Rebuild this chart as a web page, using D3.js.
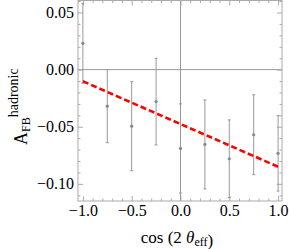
<!DOCTYPE html>
<html>
<head>
<meta charset="utf-8">
<script src="https://cdn.jsdelivr.net/npm/d3@7"></script>
<style>
  body { margin: 0; background: #fff; }
  svg text { font-family: "Liberation Serif", "Times New Roman", serif; }
</style>
</head>
<body>
<div id="chart"></div>
<script>
// measured asymmetry per cos(2 theta_eff) bin
var xs = [-1, -0.75, -0.5, -0.25, 0, 0.25, 0.5, 0.75, 1];
var afb = [0.023, -0.032, -0.0495, -0.028, -0.069, -0.0655, -0.078, -0.057, -0.0733];
var errs = [0.035, 0.032, 0.039, 0.038, 0.039, 0.039, 0.034, 0.035, 0.033];

// linear fit
var fitIntercept = -0.0476;
var fitSlope = -0.0374;

var xMajor = [-1, -0.5, 0, 0.5, 1];
var xLabels = ["\u22121.0", "\u22120.5", "0.0", "0.5", "1.0"];
var yMajor = [-0.1, -0.05, 0, 0.05];
var yLabels = ["\u22120.10", "\u22120.05", "0.00", "0.05"];

var width = 289, height = 249;
var pLeft = 78, pRight = 282, pTop = 0.5, pBottom = 201;

var svg = d3.select("#chart").append("svg")
    .attr("width", width)
    .attr("height", height);

var x = d3.scaleLinear().domain([-1.05, 1.04]).range([pLeft, pRight]);
var y = d3.scaleLinear().domain([-0.115, 0.0605]).range([pBottom, pTop]);

var xMinor = d3.range(-10, 11).map(function(i){ return i / 10; })
    .filter(function(v){ return Math.abs(v * 2 - Math.round(v * 2)) > 1e-9; });
var yMinor = d3.range(-11, 7).map(function(i){ return i / 100; })
    .filter(function(v){ return Math.abs(v * 20 - Math.round(v * 20)) > 1e-9; });

var frameColor = "#aaa";
var serif = "'Liberation Serif', 'Times New Roman', serif";

// axes through the origin
svg.append("line")
    .attr("x1", pLeft).attr("x2", pRight)
    .attr("y1", y(0)).attr("y2", y(0))
    .attr("stroke", "#999").attr("stroke-width", 1);
svg.append("line")
    .attr("x1", x(0)).attr("x2", x(0))
    .attr("y1", pTop).attr("y2", pBottom)
    .attr("stroke", "#999").attr("stroke-width", 1);

// frame ticks
function ticks(axis, scale, vals, size, tr, labels){
    var g = svg.append("g")
        .attr("transform", tr)
        .call(axis(scale).tickValues(vals).tickSizeInner(size).tickSizeOuter(0)
            .tickPadding(labels ? 4 : 0)
            .tickFormat(function(d, i){ return labels ? labels[i] : ""; }));
    g.attr("font-family", serif);
    g.select(".domain").remove();
    g.selectAll("line").attr("stroke", frameColor);
    g.selectAll("text").attr("fill", "#000")
        .style("font-family", serif).style("font-size", "16px");
    return g;
}

var gl = ticks(d3.axisLeft, y, yMajor, -5, "translate(" + pLeft + ",0)", yLabels);
gl.selectAll("text").attr("x", -4);
ticks(d3.axisLeft, y, yMinor, -2.5, "translate(" + pLeft + ",0)");
ticks(d3.axisRight, y, yMajor, -5, "translate(" + pRight + ",0)");
ticks(d3.axisRight, y, yMinor, -2.5, "translate(" + pRight + ",0)");
var gb = ticks(d3.axisBottom, x, xMajor, -5, "translate(0," + pBottom + ")", xLabels);
gb.selectAll("text").attr("y", 4);
ticks(d3.axisBottom, x, xMinor, -2.5, "translate(0," + pBottom + ")");
ticks(d3.axisTop, x, xMajor, -5, "translate(0," + pTop + ")");
ticks(d3.axisTop, x, xMinor, -2.5, "translate(0," + pTop + ")");

svg.append("rect")
    .attr("x", pLeft).attr("y", pTop)
    .attr("width", pRight - pLeft).attr("height", pBottom - pTop)
    .attr("fill", "none").attr("stroke", frameColor).attr("stroke-width", 1);

// error bars
var pts = xs.map(function(d, i){ return {x: d, v: afb[i], e: errs[i]}; });
var eb = svg.append("g").attr("stroke", "#999").attr("stroke-width", 1);
eb.selectAll(".bar").data(pts).enter().append("line")
    .attr("x1", function(d){ return x(d.x); })
    .attr("x2", function(d){ return x(d.x); })
    .attr("y1", function(d){ return y(d.v + d.e); })
    .attr("y2", function(d){ return y(d.v - d.e); });
eb.selectAll(".capT").data(pts).enter().append("line")
    .attr("x1", function(d){ return x(d.x) - 1.5; })
    .attr("x2", function(d){ return x(d.x) + 1.5; })
    .attr("y1", function(d){ return y(d.v + d.e); })
    .attr("y2", function(d){ return y(d.v + d.e); });
eb.selectAll(".capB").data(pts).enter().append("line")
    .attr("x1", function(d){ return x(d.x) - 1.5; })
    .attr("x2", function(d){ return x(d.x) + 1.5; })
    .attr("y1", function(d){ return y(d.v - d.e); })
    .attr("y2", function(d){ return y(d.v - d.e); });

svg.append("g").selectAll("circle").data(pts).enter().append("circle")
    .attr("cx", function(d){ return x(d.x); })
    .attr("cy", function(d){ return y(d.v); })
    .attr("r", 1.6)
    .attr("fill", "#888");

// fit line
var line = d3.line()
    .x(function(d){ return x(d); })
    .y(function(d){ return y(fitIntercept + fitSlope * d); });
svg.append("path")
    .datum([-1, 1])
    .attr("d", line)
    .attr("fill", "none")
    .attr("stroke", "#f00")
    .attr("stroke-width", 2.6)
    .attr("stroke-dasharray", "6,3");

// axis labels
svg.append("text")
    .attr("x", 177).attr("y", 243)
    .attr("text-anchor", "middle")
    .style("font-family", serif)
    .style("font-size", "17px")
    .html('cos (2 <tspan font-style="italic">θ</tspan><tspan font-size="12px" dy="3">eff</tspan>)');

var yl = svg.append("text")
    .attr("transform", "translate(27,145) rotate(-90)")
    .style("font-family", serif)
    .style("font-size", "18px");
yl.append("tspan").text("A");
yl.append("tspan").attr("font-size", "12px").attr("dy", 3).text("FB");
yl.append("tspan").attr("font-size", "14px").attr("dy", -12).text("hadronic");
</script>
</body>
</html>
